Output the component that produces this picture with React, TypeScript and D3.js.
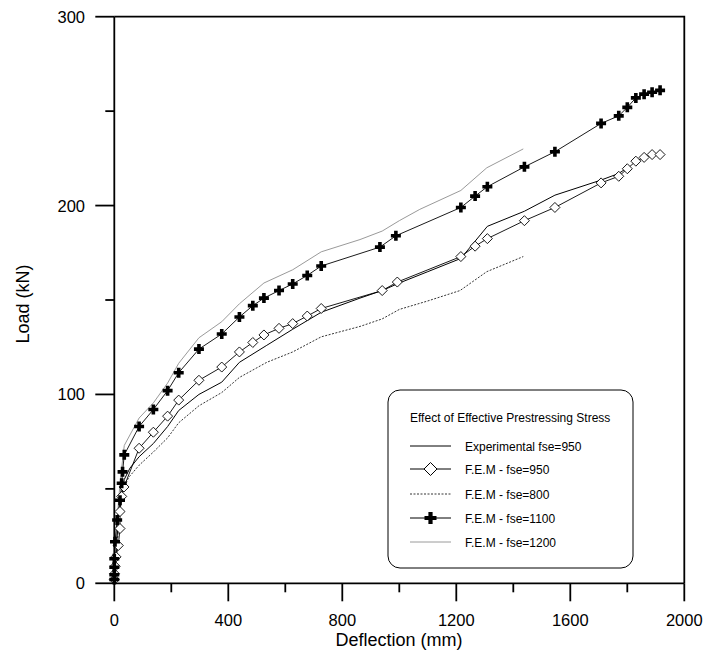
import React from "react";
import * as d3 from "d3";

const expX = [0, 3, 6, 10, 15, 22, 35, 55, 87, 137, 187, 226, 297, 377, 439, 535, 626, 726, 862, 940, 1000, 1100, 1216, 1309, 1439, 1546, 1708, 1770, 1800];
const expY = [0, 8, 16, 25, 35, 45, 55, 61, 67, 74, 83, 91.5, 100, 106.5, 117, 126, 134.5, 143.5, 151, 155, 159, 165, 172, 189, 197, 205.5, 213.5, 217, 220];

const fem950X = [0, 1, 3, 6, 14, 20, 20, 26, 34, 87, 137, 187, 226, 297, 377, 439, 486, 525, 578, 626, 677, 726, 940, 993, 1216, 1266, 1309, 1439, 1546, 1708, 1770, 1800, 1830, 1859, 1887, 1915];
const fem950Y = [2, 5, 9, 14, 20, 29, 38, 46, 51, 71.5, 80, 88.5, 97, 107.5, 114.5, 122.5, 127.5, 131.5, 135, 137.5, 141.5, 145.5, 155, 159.5, 173, 178.5, 182.5, 192, 199, 212, 215.5, 219.5, 223.5, 225.5, 227, 227];

const fem800X = [0, 5, 10, 15, 20, 30, 50, 87, 137, 187, 226, 297, 377, 439, 535, 626, 726, 862, 940, 1000, 1100, 1213, 1307, 1435];
const fem800Y = [0, 10, 20, 30, 40, 49, 56, 62.5, 69.5, 77, 85, 94, 101, 109, 117, 122.5, 130.5, 136, 140, 145, 149.5, 155, 165, 173];

const fem1100X = [0, 0, 0, 0, 2.5, 10, 20, 26, 29, 35, 87, 137, 187, 226, 297, 377, 439, 486, 525, 578, 626, 677, 726, 932, 988, 1216, 1266, 1309, 1439, 1546, 1708, 1770, 1800, 1830, 1859, 1887, 1915];
const fem1100Y = [2, 4.5, 8.5, 13, 22, 33.5, 44, 53, 59, 68, 83, 92, 102, 111.5, 124, 132, 141, 147, 151, 155, 158.5, 163, 168, 178, 184, 199, 205, 210, 220.5, 228.5, 243.5, 247.5, 252, 257, 259, 260, 261];

const fem1200X = [0, 3, 6, 10, 15, 22, 35, 87, 137, 187, 226, 297, 377, 439, 525, 626, 726, 862, 940, 1000, 1072, 1216, 1307, 1435];
const fem1200Y = [0, 10, 20, 32, 44, 56, 73, 87.5, 95.5, 106, 116.5, 130, 138.5, 148, 159, 166, 175.5, 182, 186.5, 192, 198, 208, 220, 230];

const xMajorTicks = [0, 400, 800, 1200, 1600, 2000];
const xMinorTicks = [200, 600, 1000, 1400, 1800];
const yMajorTicks = [0, 100, 200, 300];
const yMinorTicks = [50, 150, 250];

const legendTitle = "Effect of Effective Prestressing Stress";
const legendLabels = ["Experimental fse=950", "F.E.M - fse=950", "F.E.M - fse=800", "F.E.M - fse=1100", "F.E.M - fse=1200"];

const FONT = "'Liberation Sans', Arial, Helvetica, sans-serif";

const x = d3.scaleLinear().domain([0, 2000]).range([114.3, 684.3]);
const y = d3.scaleLinear().domain([0, 300]).range([583.3, 16.7]);

type Pt = [number, number];
const zip = (xs: number[], ys: number[]): Pt[] => xs.map((v, i) => [v, ys[i]]);
const line = d3.line<Pt>().x((d) => x(d[0])).y((d) => y(d[1]));

const plusPath = (s: number, t: number) => {
  const a = s / 2, b = t / 2;
  return `M${-b},${-a}H${b}V${-b}H${a}V${b}H${b}V${a}H${-b}V${b}H${-a}V${-b}H${-b}Z`;
};
const diamondPath = (s: number) => {
  const a = s / 2;
  return `M0,${-a}L${a},0L0,${a}L${-a},0Z`;
};

export default function App() {
  const exp = zip(expX, expY);
  const f950 = zip(fem950X, fem950Y);
  const f800 = zip(fem800X, fem800Y);
  const f1100 = zip(fem1100X, fem1100Y);
  const f1200 = zip(fem1200X, fem1200Y);

  const lgX0 = 410, lgX1 = 451, lgTX = 465;
  const lgYs = [446, 469, 494, 518, 542];

  return (
    <svg width={705} height={654} style={{ position: "absolute", left: 0, top: 0, background: "#fff" }} fontFamily={FONT}>
      <rect x={0} y={0} width={705} height={654} fill="#fff" />
      {/* series */}
      <path d={line(f1200) || ""} fill="none" stroke="#9a9a9a" strokeWidth={1} />
      <path d={line(f800) || ""} fill="none" stroke="#000" strokeWidth={0.8} strokeDasharray="2,1.5" />
      <path d={line(exp) || ""} fill="none" stroke="#000" strokeWidth={1} />
      <path d={line(f950) || ""} fill="none" stroke="#000" strokeWidth={0.9} />
      <path d={line(f1100) || ""} fill="none" stroke="#000" strokeWidth={0.9} />
      {f950.map((d, i) => (
        <path key={"d" + i} d={diamondPath(10)} transform={`translate(${x(d[0])},${y(d[1])})`} fill="#fff" stroke="#000" strokeWidth={0.9} />
      ))}
      {f1100.map((d, i) => (
        <path key={"p" + i} d={plusPath(10, 3.6)} transform={`translate(${x(d[0])},${y(d[1])})`} fill="#000" />
      ))}

      {/* frame */}
      <path d={`M${x(0)},${y(300)}H${x(2000)}V${y(0)}`} fill="none" stroke="#000" strokeWidth={1.8} />
      <line x1={x(0)} x2={x(2000)} y1={y(0)} y2={y(0)} stroke="#000" strokeWidth={1.8} />
      <line x1={x(0)} x2={x(0)} y1={y(0)} y2={y(300)} stroke="#000" strokeWidth={1.8} />

      {/* x ticks */}
      {xMajorTicks.map((t) => (
        <g key={"xm" + t}>
          <line x1={x(t)} x2={x(t)} y1={y(0)} y2={y(0) + 18} stroke="#000" strokeWidth={1.8} />
          <text x={x(t)} y={626} textAnchor="middle" fontSize={16.5}>{t}</text>
        </g>
      ))}
      {xMinorTicks.map((t) => (
        <line key={"xn" + t} x1={x(t)} x2={x(t)} y1={y(0)} y2={y(0) + 9} stroke="#000" strokeWidth={1.8} />
      ))}
      {/* y ticks */}
      {yMajorTicks.map((t) => (
        <g key={"ym" + t}>
          <line x1={x(0) - 19} x2={x(0)} y1={y(t)} y2={y(t)} stroke="#000" strokeWidth={1.8} />
          <text x={85} y={y(t) + 6} textAnchor="end" fontSize={16.5}>{t}</text>
        </g>
      ))}
      {yMinorTicks.map((t) => (
        <line key={"yn" + t} x1={x(0) - 9} x2={x(0)} y1={y(t)} y2={y(t)} stroke="#000" strokeWidth={1.8} />
      ))}

      {/* axis titles */}
      <text x={399} y={646} textAnchor="middle" fontSize={18}>Deflection (mm)</text>
      <text transform="translate(29,304) rotate(-90)" textAnchor="middle" fontSize={18}>Load (kN)</text>

      {/* legend */}
      <rect x={388} y={390} width={245} height={178} rx={12} ry={12} fill="#fff" stroke="#000" strokeWidth={1} />
      <text x={410} y={422} fontSize={12}>{legendTitle}</text>
      {/* entry 0 */}
      <line x1={lgX0} x2={lgX1} y1={lgYs[0]} y2={lgYs[0]} stroke="#000" strokeWidth={1} />
      {/* entry 1 */}
      <line x1={lgX0} x2={lgX1} y1={lgYs[1]} y2={lgYs[1]} stroke="#000" strokeWidth={1} />
      <path d={diamondPath(13)} transform={`translate(${(lgX0 + lgX1) / 2},${lgYs[1]})`} fill="#fff" stroke="#000" strokeWidth={1} />
      {/* entry 2 */}
      <line x1={lgX0} x2={lgX1} y1={lgYs[2]} y2={lgYs[2]} stroke="#000" strokeWidth={0.8} strokeDasharray="2,1.5" />
      {/* entry 3 */}
      <line x1={lgX0} x2={lgX1} y1={lgYs[3]} y2={lgYs[3]} stroke="#000" strokeWidth={1} />
      <path d={plusPath(12, 4.2)} transform={`translate(${(lgX0 + lgX1) / 2},${lgYs[3]})`} fill="#000" />
      {/* entry 4 */}
      <line x1={lgX0} x2={lgX1} y1={lgYs[4]} y2={lgYs[4]} stroke="#9a9a9a" strokeWidth={1} />
      {legendLabels.map((l, i) => (
        <text key={l} x={lgTX} y={lgYs[i] + 4.5} fontSize={12}>{l}</text>
      ))}
    </svg>
  );
}
